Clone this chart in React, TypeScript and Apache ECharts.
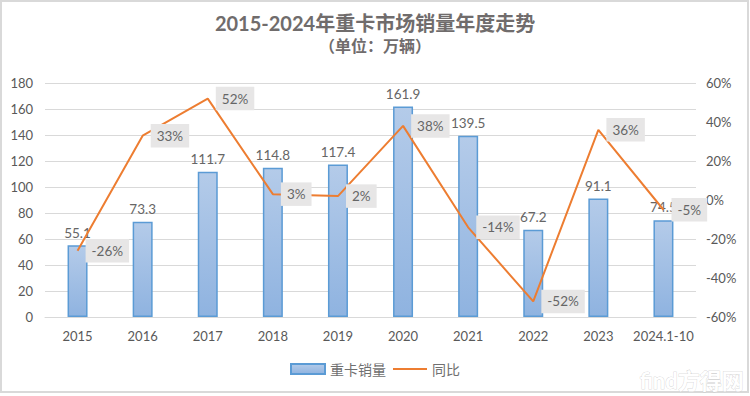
import React, { useEffect, useRef } from "react";
import * as echarts from "echarts";

const categories = ["2015", "2016", "2017", "2018", "2019", "2020", "2021", "2022", "2023", "2024.1-10"];
const salesValues = [55.1, 73.3, 111.7, 114.8, 117.4, 161.9, 139.5, 67.2, 91.1, 74.5];
const yoyValues = [-26, 33, 52, 3, 2, 38, -14, -52, 36, -5];
const titleText = "2015-2024年重卡市场销量年度走势";
const subtitleText = "（单位：万辆）";
const barName = "重卡销量";
const lineName = "同比";

export default function App() {
  const ref = useRef<HTMLDivElement>(null);
  useEffect(() => {
    if (!ref.current) return;
    const chart = echarts.init(ref.current, undefined, { renderer: "svg" });
    const txt = "#595959";
    const font = "Lato, 'Noto Sans CJK SC', sans-serif";
    chart.setOption({
      animation: false,
      backgroundColor: "#fff",
      textStyle: { fontFamily: font },
      title: {
        text: titleText,
        subtext: subtitleText,
        left: "center",
        top: 8,
        itemGap: 4,
        textStyle: { color: "#706c6c", fontSize: 20, fontWeight: "bold", fontFamily: font },
        subtextStyle: { color: "#706c6c", fontSize: 16, fontWeight: "bold", fontFamily: font },
      },
      legend: {
        bottom: 15,
        left: "center",
        itemWidth: 34,
        itemHeight: 10,
        itemGap: 6,
        textStyle: { color: "#707070", fontSize: 14 },
        data: [
          { name: barName, icon: "rect" },
          { name: lineName, itemStyle: { opacity: 0 } },
        ],
      },
      grid: { left: 45, right: 54, top: 83, bottom: 79 },
      xAxis: {
        type: "category",
        data: categories,
        axisTick: { show: false },
        axisLine: { lineStyle: { color: "#d9d9d9" } },
        axisLabel: { color: txt, fontSize: 13, margin: 12, interval: 0 },
      },
      yAxis: [
        {
          type: "value",
          min: 0,
          max: 180,
          interval: 20,
          axisLabel: { color: txt, fontSize: 13, margin: 12 },
          splitLine: { lineStyle: { color: "#d9d9d9" } },
          axisLine: { show: false },
          axisTick: { show: false },
        },
        {
          type: "value",
          min: -60,
          max: 60,
          interval: 20,
          axisLabel: { color: txt, fontSize: 13, margin: 10, formatter: "{value}%" },
          splitLine: { show: false },
          axisLine: { show: false },
          axisTick: { show: false },
        },
      ],
      series: [
        {
          name: barName,
          type: "bar",
          data: salesValues,
          barWidth: 20,
          itemStyle: {
            color: new echarts.graphic.LinearGradient(0, 0, 0, 1, [
              { offset: 0, color: "#b4cbe9" },
              { offset: 1, color: "#8fb3e0" },
            ]),
            borderColor: "#5b9bd5",
            borderWidth: 1.5,
          },
          label: { show: true, position: "top", color: "#666666", fontSize: 13.5, distance: 6 },
        },
        {
          name: lineName,
          type: "line",
          yAxisIndex: 1,
          data: yoyValues,
          showSymbol: true,
          symbol: "circle",
          symbolSize: 0.1,
          lineStyle: { color: "#ed7d31", width: 2 },
          itemStyle: { color: "#ed7d31" },
          labelLayout: { hideOverlap: false },
          label: {
            show: true,
            position: "right",
            distance: 8,
            formatter: "{c}%",
            color: "#666666",
            fontSize: 13.5,
            backgroundColor: "#e7e6e6",
            padding: [5, 6],
          },
        },
      ],
      graphic: [
        {
          type: "rect",
          shape: { x: 1, y: 1, width: 747, height: 391 },
          style: { fill: "none", stroke: "#d9d9d9", lineWidth: 2 },
          silent: true,
        },
        {
          type: "text",
          right: 6,
          bottom: 4,
          style: {
            text: "find方得网",
            fill: "#ffffff",
            stroke: "#bdbdbd",
            lineWidth: 0.5,
            fontSize: 22,
            fontWeight: "bold",
            fontFamily: font,
          },
          silent: true,
        },
      ],
    });
    return () => chart.dispose();
  }, []);
  return (
    <div
      ref={ref}
      style={{ position: "fixed", left: 0, top: 0, width: 750, height: 396 }}
    />
  );
}
